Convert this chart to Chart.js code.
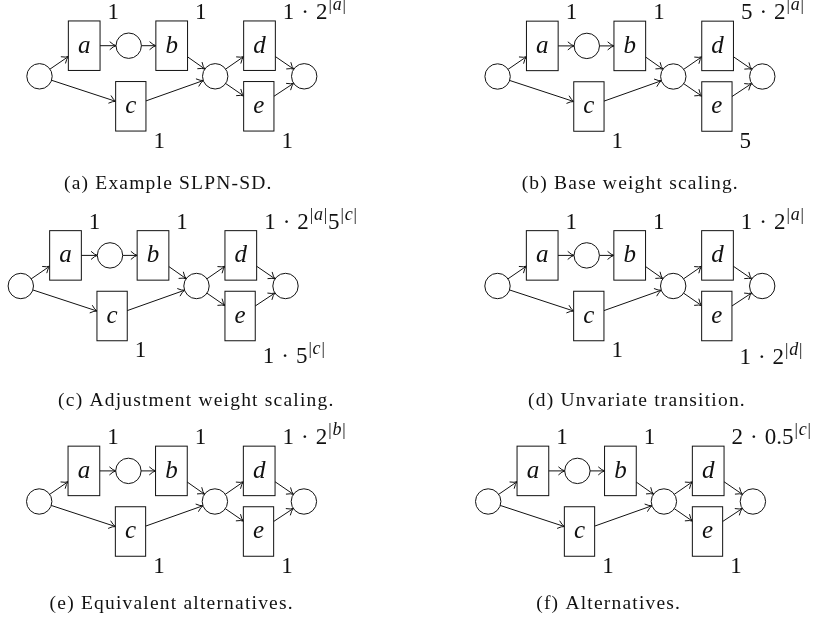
<!DOCTYPE html>
<html>
<head>
<meta charset="utf-8">
<script src="https://cdn.jsdelivr.net/npm/chart.js@4.4.1/dist/chart.umd.min.js"></script>
<style>
  html, body { margin: 0; padding: 0; background: #fff; }
  body { width: 823px; height: 627px; position: relative; overflow: hidden; }
  canvas { position: absolute; }
</style>
</head>
<body>
<script>
'use strict'
//
;(() => {
  // net geometry, in px, origin at the source place, y pointing up
  const placeNames = ['i', 'p1', 'p2', 'o']
  const placeX = [0, 89.2, 175.7, 264.7]
  const placeY = [0, 30.6, 0, 0]

  const transNames = ['a', 'b', 'c', 'd', 'e']
  const transX = [44.7, 132.2, 91.3, 220, 219.3]
  const transY = [30.6, 30.6, -30, 30.6, -30]

  const arcs = [
    ['i', 'a'], ['i', 'c'], ['a', 'p1'], ['p1', 'b'], ['b', 'p2'],
    ['c', 'p2'], ['p2', 'd'], ['p2', 'e'], ['d', 'o'], ['e', 'o']
  ]

  const panelTags = ['a', 'b', 'c', 'd', 'e', 'f']
  const captions = [
    'Example SLPN-SD.',
    'Base weight scaling.',
    'Adjustment weight scaling.',
    'Unvariate transition.',
    'Equivalent alternatives.',
    'Alternatives.'
  ]
  // weight of a, b, c, d, e in each panel
  const weights = [
    ['1', '1', '1', '1 · 2^|a|', '1'],
    ['1', '1', '1', '5 · 2^|a|', '5'],
    ['1', '1', '1', '1 · 2^|a|5^|c|', '1 · 5^|c|'],
    ['1', '1', '1', '1 · 2^|a|', '1 · 2^|d|'],
    ['1', '1', '1', '1 · 2^|b|', '1'],
    ['1', '1', '1', '2 · 0.5^|c|', '1']
  ]

  // page layout of the six sub figures
  const panels = [
    { left: 0, top: 0, w: 412, h: 200, ox: 39.5, oy: 76.3, capX: 168.3, capY: 188.5 },
    { left: 412, top: 0, w: 411, h: 200, ox: 497.6, oy: 76.5, capX: 630.3, capY: 188.5 },
    { left: 0, top: 200, w: 412, h: 210, ox: 20.8, oy: 286, capX: 196.3, capY: 405.7 },
    { left: 412, top: 200, w: 411, h: 210, ox: 497.5, oy: 286, capX: 637, capY: 405.7 },
    { left: 0, top: 410, w: 412, h: 217, ox: 39.2, oy: 501.5, capX: 171.7, capY: 609 },
    { left: 412, top: 410, w: 411, h: 217, ox: 488.2, oy: 501.5, capX: 608.7, capY: 609 }
  ]

  const ink = '#111111'
  const placeR = 12.7
  const boxH = 49.5
  const boxPad = 9.6
  const boxFont = 'italic 25px "Liberation Serif"'
  const mathFont = '23px "Liberation Serif"'
  const supFont = '17px "Liberation Serif"'
  const supItalic = 'italic 18px "Liberation Serif"'
  const supRaise = 9
  const dotGap = 7
  const captionFont = '19.5px "Liberation Serif"'

  function nodeGeom(chart) {
    const ctx = chart.ctx
    const nodes = {}
    chart.getDatasetMeta(0).data.forEach((pt, i) => {
      nodes[placeNames[i]] = { x: pt.x, y: pt.y, r: placeR }
    })
    ctx.save()
    ctx.font = boxFont
    chart.getDatasetMeta(1).data.forEach((pt, i) => {
      const w = ctx.measureText(transNames[i]).width + 2 * boxPad
      nodes[transNames[i]] = { x: pt.x, y: pt.y, hw: w / 2, hh: boxH / 2, up: transY[i] > 0 }
    })
    ctx.restore()
    return nodes
  }

  function boundary(n, dx, dy) {
    if (n.r) return { x: n.x + dx * n.r, y: n.y + dy * n.r }
    const t = Math.min(
      dx ? n.hw / Math.abs(dx) : Infinity,
      dy ? n.hh / Math.abs(dy) : Infinity
    )
    return { x: n.x + dx * t, y: n.y + dy * t }
  }

  function arrowHead(ctx, tip, dx, dy) {
    const L = 6
    const W = 3.8
    const nx = -dy
    const ny = dx
    ;[1, -1].forEach((s) => {
      ctx.beginPath()
      ctx.moveTo(tip.x - L * dx + s * W * nx, tip.y - L * dy + s * W * ny)
      ctx.quadraticCurveTo(
        tip.x - 0.45 * L * dx + s * 0.6 * nx,
        tip.y - 0.45 * L * dy + s * 0.6 * ny,
        tip.x, tip.y
      )
      ctx.stroke()
    })
  }

  // '1 · 2^|a|' -> upright numbers, superscripts with italic letters
  function mathLabel(ctx, str, x, y, draw) {
    const parts = str.split(/\^(\|[a-z]\|)/)
    let cx = x
    let asc = 0
    parts.forEach((part, i) => {
      if (!part) return
      if (i % 2 === 0) {
        ctx.font = mathFont
        part.split(' · ').forEach((chunk, j) => {
          if (j > 0) {
            cx += dotGap
            if (draw) ctx.fillText('·', cx, y)
            cx += ctx.measureText('·').width + dotGap
          }
          const m = ctx.measureText(chunk)
          if (draw) ctx.fillText(chunk, cx, y)
          asc = Math.max(asc, m.actualBoundingBoxAscent)
          cx += m.width
        })
      } else {
        const sy = y - supRaise
        cx += 1
        for (const ch of part) {
          ctx.font = ch === '|' ? supFont : supItalic
          const m = ctx.measureText(ch)
          if (draw) ctx.fillText(ch, cx, sy)
          asc = Math.max(asc, supRaise + m.actualBoundingBoxAscent)
          cx += m.width + 0.8
        }
      }
    })
    return { width: cx - x, ascent: asc }
  }

  const petriPlugin = {
    id: 'petri',
    beforeDatasetsDraw(chart) {
      const ctx = chart.ctx
      const nodes = nodeGeom(chart)
      ctx.save()
      ctx.strokeStyle = ink
      ctx.lineWidth = 1
      ctx.lineCap = 'round'
      arcs.forEach(([from, to]) => {
        const a = nodes[from]
        const b = nodes[to]
        const len = Math.hypot(b.x - a.x, b.y - a.y)
        const dx = (b.x - a.x) / len
        const dy = (b.y - a.y) / len
        const p = boundary(a, dx, dy)
        const q = boundary(b, -dx, -dy)
        ctx.beginPath()
        ctx.moveTo(p.x, p.y)
        ctx.lineTo(q.x, q.y)
        ctx.stroke()
        arrowHead(ctx, q, dx, dy)
      })
      ctx.restore()
    },
    afterDatasetsDraw(chart, args, opts) {
      const ctx = chart.ctx
      const nodes = nodeGeom(chart)
      ctx.save()
      ctx.strokeStyle = ink
      ctx.fillStyle = ink
      ctx.lineWidth = 1
      ctx.textBaseline = 'alphabetic'
      transNames.forEach((name, i) => {
        const n = nodes[name]
        ctx.fillStyle = '#ffffff'
        ctx.fillRect(n.x - n.hw, n.y - n.hh, 2 * n.hw, 2 * n.hh)
        ctx.strokeRect(n.x - n.hw, n.y - n.hh, 2 * n.hw, 2 * n.hh)
        ctx.fillStyle = ink
        ctx.font = boxFont
        ctx.textAlign = 'center'
        ctx.fillText(name, n.x, n.y + 6.8)

        ctx.textAlign = 'left'
        const label = opts.weights[i]
        const lx = n.x + n.hw + 7.5
        if (n.up) {
          mathLabel(ctx, label, lx, n.y - n.hh - 2, true)
        } else {
          const m = mathLabel(ctx, label, lx, 0, false)
          mathLabel(ctx, label, lx, n.y + n.hh + 1.5 + m.ascent, true)
        }
      })
      // sub figure caption
      ctx.font = captionFont
      ctx.letterSpacing = '1.2px'
      ctx.textAlign = 'center'
      ctx.fillText(opts.caption, opts.capX, opts.capY)
      ctx.restore()
    }
  }

  panels.forEach((pan, k) => {
    const canvas = document.createElement('canvas')
    canvas.width = pan.w
    canvas.height = pan.h
    canvas.style.left = pan.left + 'px'
    canvas.style.top = pan.top + 'px'
    document.body.appendChild(canvas)

    const ox = pan.ox - pan.left
    const oy = pan.oy - pan.top

    new Chart(canvas, {
      type: 'scatter',
      data: {
        datasets: [
          {
            label: 'places',
            data: placeX.map((x, i) => ({ x, y: placeY[i] })),
            pointStyle: 'circle',
            pointRadius: placeR,
            pointHoverRadius: placeR,
            backgroundColor: '#ffffff',
            borderColor: ink,
            borderWidth: 1,
            clip: false
          },
          {
            label: 'transitions',
            data: transX.map((x, i) => ({ x, y: transY[i] })),
            pointRadius: 0,
            pointHoverRadius: 0,
            clip: false
          }
        ]
      },
      options: {
        responsive: false,
        animation: false,
        events: [],
        layout: { padding: 0, autoPadding: false },
        scales: {
          x: { type: 'linear', display: false, min: -ox, max: pan.w - ox },
          y: { type: 'linear', display: false, min: oy - pan.h, max: oy }
        },
        plugins: {
          legend: { display: false },
          tooltip: { enabled: false },
          petri: {
            weights: weights[k],
            caption: '(' + panelTags[k] + ') ' + captions[k],
            capX: pan.capX - pan.left,
            capY: pan.capY - pan.top
          }
        }
      },
      plugins: [petriPlugin]
    })
  })
})()
</script>
</body>
</html>
